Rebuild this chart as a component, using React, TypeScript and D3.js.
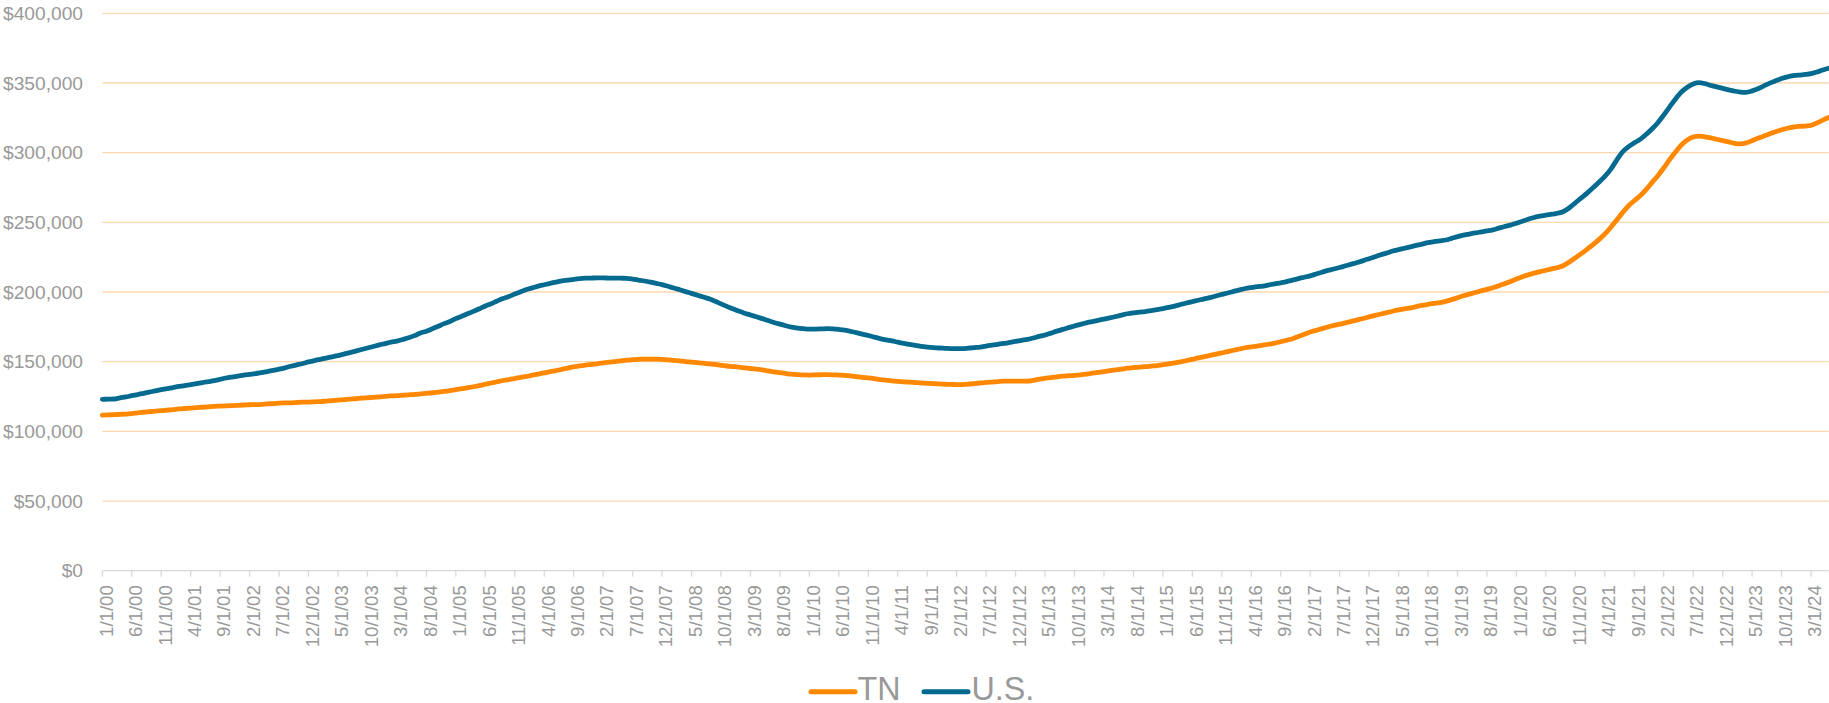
import React from "react";
import * as d3 from "d3";

// Monthly home values (thousands of dollars), 1/1/2000 .. 6/1/2024
const US_VALUES: number[] = [
  123.0, 123.1, 123.2, 124.0, 124.7, 125.6, 126.4, 127.3, 128.2, 129.0,
  129.9, 130.6, 131.4, 132.2, 132.9, 133.5, 134.2, 135.0, 135.7, 136.4,
  137.3, 138.3, 139.0, 139.6, 140.3, 140.9, 141.5, 142.1, 142.9, 143.7,
  144.6, 145.6, 146.7, 147.7, 148.7, 149.8, 150.8, 151.7, 152.6, 153.5,
  154.4, 155.4, 156.5, 157.6, 158.7, 159.8, 160.9, 162.0, 163.0, 164.0,
  164.8, 165.9, 167.1, 168.7, 170.5, 171.9, 173.6, 175.4, 177.3, 178.8,
  180.9, 182.6, 184.4, 186.1, 188.0, 190.0, 191.6, 193.5, 195.3, 196.8,
  198.5, 200.2, 201.8, 203.0, 204.2, 205.2, 206.2, 207.1, 207.9, 208.5,
  209.1, 209.6, 209.9, 210.0, 210.1, 210.1, 210.0, 210.0, 209.9, 209.8,
  209.3, 208.6, 207.9, 207.1, 206.2, 205.3, 204.1, 202.9, 201.6, 200.3,
  199.0, 197.7, 196.4, 195.1, 193.4, 191.5, 189.7, 188.0, 186.3, 184.8,
  183.5, 182.2, 180.9, 179.5, 178.1, 176.9, 175.8, 174.8, 174.1, 173.7,
  173.4, 173.4, 173.5, 173.7, 173.5, 173.1, 172.6, 171.8, 170.8, 169.8,
  168.8, 167.6, 166.6, 165.7, 164.9, 164.0, 163.1, 162.4, 161.7, 161.0,
  160.5, 160.1, 159.8, 159.6, 159.4, 159.3, 159.3, 159.7, 160.1, 160.5,
  161.2, 161.9, 162.5, 163.1, 163.8, 164.5, 165.3, 166.0, 167.0, 168.1,
  169.1, 170.5, 171.9, 173.2, 174.4, 175.6, 176.8, 177.9, 178.8, 179.7,
  180.6, 181.4, 182.4, 183.4, 184.4, 185.1, 185.6, 186.0, 186.6, 187.3,
  188.1, 188.9, 189.9, 191.0, 192.1, 193.1, 194.1, 195.1, 196.0, 197.1,
  198.3, 199.3, 200.4, 201.5, 202.5, 203.2, 203.8, 204.3, 205.1, 205.9,
  206.6, 207.4, 208.5, 209.6, 210.6, 211.6, 212.9, 214.2, 215.5, 216.5,
  217.6, 218.8, 220.0, 221.2, 222.5, 223.9, 225.3, 226.7, 228.0, 229.4,
  230.4, 231.4, 232.4, 233.4, 234.4, 235.4, 236.1, 236.7, 237.3, 238.5,
  239.7, 240.8, 241.6, 242.4, 243.1, 243.8, 244.6, 245.8, 247.0, 248.0,
  249.4, 250.8, 252.2, 253.5, 254.4, 255.2, 255.8, 256.5, 257.8, 260.5,
  264.0, 267.5, 271.0, 274.8, 278.8, 283.0, 288.0, 294.5, 300.5, 304.2,
  307.0, 309.5, 313.0, 317.0, 321.5, 327.0, 332.8, 338.5, 343.5, 347.0,
  349.3, 350.2, 349.5, 348.3, 347.2, 346.1, 345.1, 344.2, 343.5, 343.3,
  344.3, 345.9, 347.9, 349.9, 351.6, 353.2, 354.4, 355.2, 355.7, 356.1,
  356.7, 357.9, 359.3, 360.6,
];

const TN_VALUES: number[] = [
  111.6, 111.8, 112.0, 112.2, 112.4, 112.8, 113.3, 113.7, 114.1, 114.5,
  114.8, 115.2, 115.6, 116.1, 116.4, 116.7, 117.0, 117.3, 117.6, 117.9,
  118.1, 118.3, 118.5, 118.7, 118.9, 119.1, 119.2, 119.4, 119.7, 119.9,
  120.2, 120.4, 120.5, 120.7, 120.9, 121.0, 121.2, 121.4, 121.7, 122.0,
  122.4, 122.7, 123.1, 123.4, 123.8, 124.1, 124.4, 124.7, 125.1, 125.4,
  125.6, 125.9, 126.2, 126.5, 126.9, 127.3, 127.7, 128.2, 128.7, 129.3,
  130.0, 130.6, 131.3, 132.0, 132.8, 133.8, 134.7, 135.6, 136.5, 137.2,
  137.9, 138.7, 139.4, 140.3, 141.1, 141.9, 142.8, 143.6, 144.5, 145.4,
  146.2, 146.9, 147.5, 148.0, 148.5, 149.1, 149.7, 150.1, 150.6, 151.1,
  151.4, 151.7, 151.9, 151.9, 151.8, 151.6, 151.3, 150.9, 150.6, 150.1,
  149.7, 149.3, 148.9, 148.4, 148.0, 147.4, 146.9, 146.5, 146.1, 145.6,
  145.1, 144.6, 144.1, 143.4, 142.7, 142.1, 141.5, 141.0, 140.7, 140.5,
  140.4, 140.5, 140.6, 140.7, 140.6, 140.4, 140.2, 139.8, 139.3, 138.8,
  138.3, 137.8, 137.2, 136.7, 136.2, 135.8, 135.5, 135.3, 135.0, 134.7,
  134.5, 134.3, 134.0, 133.8, 133.7, 133.5, 133.6, 133.9, 134.3, 134.7,
  135.1, 135.4, 135.7, 136.0, 136.1, 136.1, 136.1, 136.1, 136.6, 137.4,
  138.1, 138.5, 139.1, 139.6, 139.9, 140.2, 140.6, 141.1, 141.7, 142.3,
  142.9, 143.5, 144.1, 144.7, 145.3, 145.7, 146.1, 146.4, 146.8, 147.2,
  147.8, 148.4, 149.1, 149.9, 150.8, 151.7, 152.7, 153.6, 154.5, 155.4,
  156.3, 157.2, 158.2, 159.1, 160.0, 160.6, 161.2, 161.9, 162.5, 163.3,
  164.3, 165.4, 166.5, 168.0, 169.7, 171.3, 172.5, 173.7, 174.9, 176.0,
  176.9, 177.8, 178.9, 180.0, 181.0, 182.1, 183.2, 184.2, 185.2, 186.2,
  187.1, 187.9, 188.6, 189.5, 190.4, 191.2, 191.8, 192.4, 193.3, 194.5,
  195.9, 197.3, 198.5, 199.6, 200.8, 201.9, 203.0, 204.5, 206.0, 207.6,
  209.3, 210.9, 212.3, 213.5, 214.6, 215.6, 216.6, 217.6, 219.0, 221.6,
  224.5, 227.5, 230.7, 234.0, 237.6, 241.6, 246.3, 251.5, 256.8, 261.7,
  265.5, 269.0, 273.5, 278.5, 283.5, 289.0, 295.0, 300.5, 305.5, 309.0,
  311.2, 311.9, 311.4, 310.6, 309.6, 308.6, 307.7, 306.7, 306.3, 307.0,
  308.6, 310.3, 312.0, 313.6, 315.0, 316.4, 317.5, 318.3, 318.8, 319.1,
  319.6, 321.3, 323.3, 325.2,
];

// Month categories 1/1/00 ... 6/1/24
const CATEGORIES: string[] = d3
  .timeMonth.range(new Date(2000, 0, 1), new Date(2024, 6, 1))
  .map((d) => `${d.getMonth() + 1}/1/${String(d.getFullYear() % 100).padStart(2, "0")}`);

const TICK_STEP = 5; // a label every 5 months
const TICK_LABELS: string[] = CATEGORIES.filter((_, i) => i % TICK_STEP === 0);
const Y_TICKS: number[] = [0, 50, 100, 150, 200, 250, 300, 350, 400];

const SERIES = [
  { name: "TN", values: TN_VALUES, color: "#FF8800" },
  { name: "U.S.", values: US_VALUES, color: "#056A8F" },
];

const W = 1829;
const H = 703;
const LEFT = 102.3;
const RIGHT = 1828.7;
const TOP = 13.3;
const BOTTOM = 570.7;
const FONT = "'Liberation Sans', Arial, Helvetica, sans-serif";
const TEXT = "#999999";

export default function App() {
  const x = d3.scalePoint<string>().domain(CATEGORIES).range([LEFT, RIGHT]).padding(0);
  const y = d3.scaleLinear().domain([0, 400]).range([BOTTOM, TOP]);
  const fmt = d3.format("$,");

  const line = d3
    .line<number>()
    .x((_, i) => x(CATEGORIES[i]) as number)
    .y((v) => y(v))
    .curve(d3.curveMonotoneX);

  return (
    <svg
      width={W}
      height={H}
      style={{ position: "absolute", left: 0, top: 0, background: "#fff" }}
      fontFamily={FONT}
    >
      {/* gridlines */}
      {Y_TICKS.filter((t) => t > 0).map((t) => (
        <line key={t} x1={LEFT} x2={RIGHT} y1={y(t)} y2={y(t)} stroke="#fdd9b0" strokeWidth={1.3} />
      ))}
      {/* y labels */}
      {Y_TICKS.map((t) => (
        <text key={"yl" + t} x={83} y={y(t)} dy="0.35em" textAnchor="end" fontSize={19.2} fill={TEXT}>
          {fmt(t * 1000)}
        </text>
      ))}
      {/* x axis */}
      <line x1={LEFT} x2={RIGHT} y1={BOTTOM} y2={BOTTOM} stroke="#d9d9d9" strokeWidth={1.3} />
      {TICK_LABELS.map((lab) => {
        const xx = x(lab) as number;
        return (
          <g key={lab}>
            <line x1={xx} x2={xx} y1={BOTTOM} y2={BOTTOM + 6} stroke="#d9d9d9" strokeWidth={1.3} />
            <text
              transform={`translate(${xx},${BOTTOM + 14.5}) rotate(-90)`}
              dy={10.3}
              textAnchor="end"
              fontSize={18.6}
              fill={TEXT}
            >
              {lab}
            </text>
          </g>
        );
      })}
      {/* series */}
      {SERIES.map((s) => (
        <path
          key={s.name}
          d={line(s.values) || ""}
          fill="none"
          stroke={s.color}
          strokeWidth={4.8}
          strokeLinejoin="round"
          strokeLinecap="round"
        />
      ))}
      {/* legend */}
      <g>
        <line x1={811} x2={855} y1={691.7} y2={691.7} stroke={SERIES[0].color} strokeWidth={5} strokeLinecap="round" />
        <text x={857.5} y={700.3} fontSize={32.3} fill={TEXT}>
          {SERIES[0].name}
        </text>
        <line x1={924} x2={968} y1={691.7} y2={691.7} stroke={SERIES[1].color} strokeWidth={5} strokeLinecap="round" />
        <text x={971.5} y={700.3} fontSize={32.3} fill={TEXT}>
          {SERIES[1].name}
        </text>
      </g>
    </svg>
  );
}
